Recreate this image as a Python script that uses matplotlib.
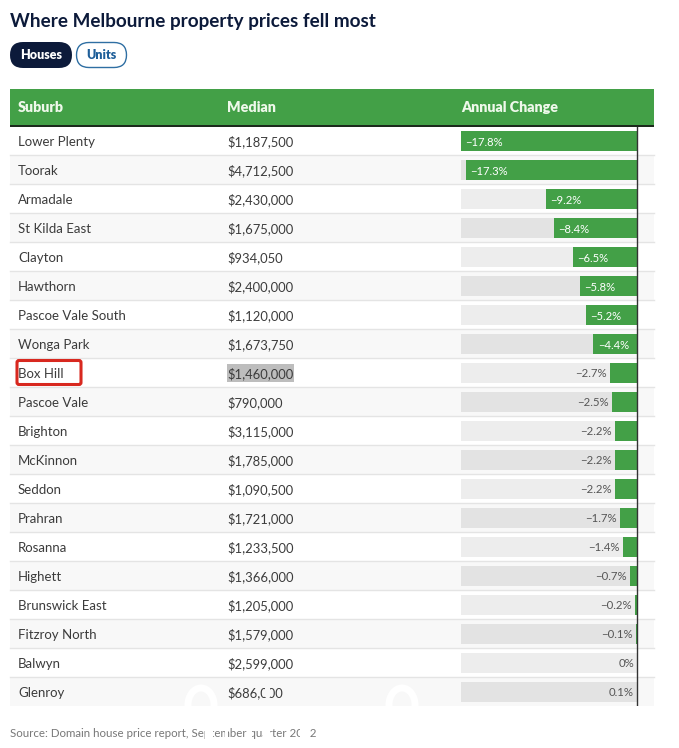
import matplotlib
matplotlib.use("Agg")
from matplotlib import pyplot as plt
from matplotlib.patches import FancyBboxPatch, Rectangle, Ellipse

# Data
suburbs = ["Lower Plenty", "Toorak", "Armadale", "St Kilda East", "Clayton", "Hawthorn",
           "Pascoe Vale South", "Wonga Park", "Box Hill", "Pascoe Vale", "Brighton", "McKinnon",
           "Seddon", "Prahran", "Rosanna", "Highett", "Brunswick East", "Fitzroy North",
           "Balwyn", "Glenroy"]
medians = ["$1,187,500", "$4,712,500", "$2,430,000", "$1,675,000", "$934,050", "$2,400,000",
           "$1,120,000", "$1,673,750", "$1,460,000", "$790,000", "$3,115,000", "$1,785,000",
           "$1,090,500", "$1,721,000", "$1,233,500", "$1,366,000", "$1,205,000", "$1,579,000",
           "$2,599,000", "$686,000"]
changes = [-17.8, -17.3, -9.2, -8.4, -6.5, -5.8, -5.2, -4.4, -2.7, -2.5, -2.2, -2.2, -2.2,
           -1.7, -1.4, -0.7, -0.2, -0.1, 0, 0.1]
headers = ["Suburb", "Median", "Annual Change"]
tabs = ["Houses", "Units"]
TITLE = "Where Melbourne property prices fell most"
SOURCE = "Source: Domain house price report, September quarter 2022"

# Options
WIDTH, HEIGHT = 679, 748
GREEN = "#43a047"
TEXTCOLOR = "#3c3c3c"
NAVY = "#0c1a3a"
FONT = "Lato"
ROWTOP = 126.5
ROWH = 29

plt.rcParams["font.family"] = [FONT, "DejaVu Sans"]
fig = plt.figure(figsize=(WIDTH / 100, HEIGHT / 100), dpi=100)

# Page axes in pixels, for the table furniture
ax = fig.add_axes([0, 0, 1, 1])
ax.set_xlim(0, WIDTH)
ax.set_ylim(HEIGHT, 0)
ax.axis("off")

ax.text(10, 21, TITLE, fontsize=13.6, fontweight="bold", color=NAVY, va="center")

# Tabs
ax.add_patch(FancyBboxPatch((10, 42), 62, 26, boxstyle="round,pad=0,rounding_size=13",
                            fc=NAVY, ec="none"))
ax.add_patch(FancyBboxPatch((76.5, 42.5), 50, 25, boxstyle="round,pad=0,rounding_size=12.5",
                            fc="white", ec="#2f6fa3", lw=1))
ax.text(41, 55, tabs[0], fontsize=9.0, fontweight="heavy", color="white", ha="center", va="center")
ax.text(101.5, 55, tabs[1], fontsize=9.0, fontweight="heavy", color="#1f5f99", ha="center", va="center")

# Header
ax.add_patch(Rectangle((10, 89), 644, 36, fc=GREEN, ec="none"))
ax.add_patch(Rectangle((10, 125), 644, 2, fc="#1c2a1c", ec="none"))
for x, name in zip([18, 227, 461], headers):
    ax.text(x, 107.5, name, fontsize=10.3, fontweight="heavy", color="#eef8ea", va="center")

# Rows
for i, (suburb, median) in enumerate(zip(suburbs, medians)):
    top = ROWTOP + i * ROWH
    if i % 2 == 1:
        ax.add_patch(Rectangle((10, top), 644, ROWH, fc="#f8f8f8", ec="none", zorder=0))
    if i < len(suburbs) - 1:
        ax.plot([10, 654], [top + ROWH - 0.5] * 2, color="#e4e4e4", lw=1, zorder=1)
    if suburb == "Box Hill":
        ax.add_patch(Rectangle((227, top + 5.5), 67, 18, fc="#bdbdbd", ec="none", zorder=1))
    ax.text(18, top + 19.5, suburb, fontsize=9.55, color=TEXTCOLOR, va="baseline", zorder=3)
    ax.text(227, top + 19.5, median, fontsize=9.35, color=TEXTCOLOR, va="baseline", zorder=3)

# Red marker around Box Hill
ax.add_patch(FancyBboxPatch((17, 360.5), 64, 24, boxstyle="round,pad=0,rounding_size=2",
                            fc="none", ec="#d8281f", lw=2.2, zorder=4))

ax.text(10, 733.5, SOURCE, fontsize=8.3, color="#777777", va="center", zorder=3)

# Bars on their own axes, left edge -17.8 and zero at x=637
bar_ax = fig.add_axes([461 / WIDTH, 1 - (ROWTOP + 20 * ROWH) / HEIGHT, 176 / WIDTH, 20 * ROWH / HEIGHT])
bar_ax.set_xlim(-17.8, 0)
bar_ax.set_ylim(19.5, -0.5)
bar_ax.axis("off")
bar_ax.patch.set_alpha(0)

rows = list(range(len(changes)))
bg_colors = ["#ededed" if i % 2 == 0 else "#e3e3e3" for i in rows]
bar_ax.barh(rows, [-17.8] * len(rows), height=20 / ROWH, color=bg_colors, zorder=1)
bar_ax.barh(rows, changes, height=20 / ROWH, color=GREEN, zorder=2)
bar_ax.axvline(0, color="#333333", lw=1, zorder=3, clip_on=False)

for i, value in enumerate(changes):
    if value == 0:
        label = "0%"
    else:
        label = f"{value:g}%".replace("-", "\u2212")
    if value <= -4:
        bar_ax.annotate(label, (value, i), xytext=(3.2, -1), textcoords="offset points",
                        fontsize=8.1, color="white", ha="left", va="center", zorder=4)
    else:
        bar_ax.annotate(label, (min(value, 0), i), xytext=(-2.2, -0.7), textcoords="offset points",
                        fontsize=8.2, color="#555555", ha="right", va="center", zorder=4)

# Watermark remains over the bottom of the table and the source line
ax2 = fig.add_axes([0, 0, 1, 1])
ax2.set_xlim(0, WIDTH)
ax2.set_ylim(HEIGHT, 0)
ax2.axis("off")
ax2.patch.set_alpha(0)
for x in [201, 402]:
    ax2.add_patch(Ellipse((x, 705), 26, 34, fc="none", ec="white", lw=5))
ax2.add_patch(Rectangle((0, 705.5), WIDTH, 20, fc="white", ec="none"))
for x, w in [(205, 8), (225, 3), (248, 4), (263, 7), (300, 10)]:
    ax2.add_patch(Rectangle((x, 726), w, 14, fc="white", ec="none"))
ax2.add_patch(Rectangle((265, 683), 5, 14, fc="#f8f8f8", ec="none"))

fig.savefig("out.png", dpi=100)
